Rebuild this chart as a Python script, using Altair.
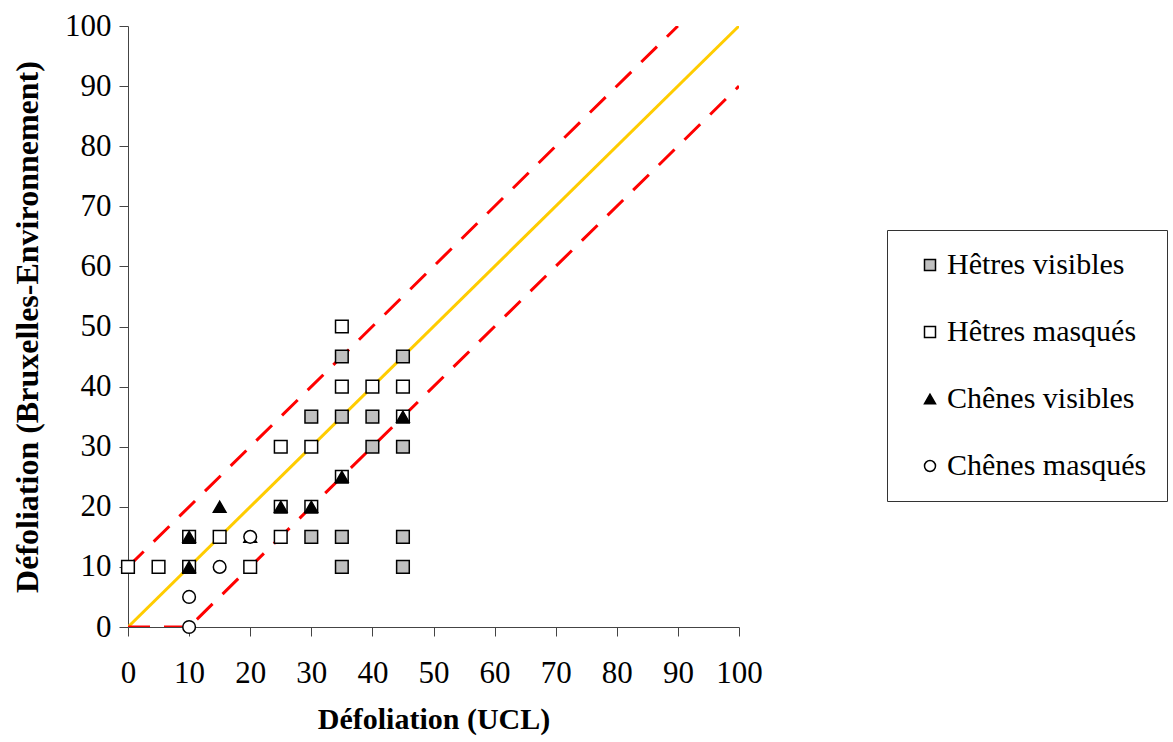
import altair as alt
import pandas as pd

# ---- data ----
series_names = ["Hêtres visibles", "Hêtres masqués", "Chênes visibles", "Chênes masqués"]

hv_x = [30, 35, 40, 35, 45, 40, 45, 30, 35, 45, 35, 45]
hv_y = [35, 35, 35, 45, 45, 30, 30, 15, 15, 15, 10, 10]

hm_x = [0, 5, 20, 15, 25, 25, 30, 35, 40, 45, 35, 10, 10, 25, 30, 35, 45]
hm_y = [10, 10, 10, 15, 15, 30, 30, 40, 40, 40, 50, 10, 15, 20, 20, 25, 35]

cv_x = [10, 10, 15, 20, 25, 30, 35, 45]
cv_y = [10, 15, 20, 15, 20, 20, 25, 35]

cm_x = [10, 10, 15, 20]
cm_y = [0, 5, 10, 15]

# reference lines
diag_x = [0, 100]
diag_y = [0, 100]
upper_x = [0, 90]
upper_y = [10, 100]
lower_x = [0, 10, 100]
lower_y = [0, 0, 90]

x_ticks = list(range(0, 101, 10))
y_ticks = list(range(0, 101, 10))

rows = []
for name, xs, ys in zip(series_names, [hv_x, hm_x, cv_x, cm_x], [hv_y, hm_y, cv_y, cm_y]):
    for a, b in zip(xs, ys):
        rows.append({"x": a, "y": b, "serie": name})
pts = pd.DataFrame(rows)

FONT = "'Liberation Serif', 'Times New Roman', Times, serif"

xs = alt.Scale(domain=[0, 100], nice=False, zero=False)
ys = alt.Scale(domain=[0, 100], nice=False, zero=False)

x_axis = alt.Axis(values=x_ticks, grid=False, title="Défoliation (UCL)", labelFont=FONT,
                  labelFontSize=31, titleFont=FONT, titleFontSize=30, titleFontWeight="bold",
                  labelColor="black", titleColor="black", domainColor="#444444", tickColor="#444444",
                  tickSize=9, labelPadding=22, titlePadding=16, labelFlush=False)
y_axis = alt.Axis(values=y_ticks, grid=False, title="Défoliation (Bruxelles-Environnement)", labelFont=FONT,
                  labelFontSize=31, titleFont=FONT, titleFontSize=32, titleFontWeight="bold",
                  labelColor="black", titleColor="black", domainColor="#444444", tickColor="#444444",
                  tickSize=9, labelPadding=8, titlePadding=20, labelFlush=False)


def line_layer(xv, yv, color, dash=None):
    df = pd.DataFrame({"x": xv, "y": yv})
    kw = dict(color=color, strokeWidth=3, clip=True)
    if dash:
        kw["strokeDash"] = dash
    return alt.Chart(df).mark_line(**kw).encode(
        x=alt.X("x:Q", scale=xs, axis=x_axis),
        y=alt.Y("y:Q", scale=ys, axis=y_axis),
    )


diag = line_layer(diag_x, diag_y, "#FFCC00")
upper = line_layer(upper_x, upper_y, "#FF0000", [22, 14])
lower = line_layer(lower_x, lower_y, "#FF0000", [22, 14])

legend = alt.Legend(title=None, orient="none", legendX=759, legendY=204,
                    labelFont=FONT, labelFontSize=30, labelColor="black",
                    strokeColor="#333333", fillColor="white", padding=20,
                    rowPadding=37, symbolSize=121,
                    symbolStrokeWidth=1.5, symbolOffset=8, labelOffset=2, labelLimit=400)

points = alt.Chart(pts).mark_point(size=160, strokeWidth=1.5, opacity=1, filled=True).encode(
    x=alt.X("x:Q", scale=xs, axis=x_axis),
    y=alt.Y("y:Q", scale=ys, axis=y_axis),
    shape=alt.Shape("serie:N", scale=alt.Scale(domain=series_names,
                                               range=["square", "square", "triangle-up", "circle"]),
                    legend=legend),
    fill=alt.Fill("serie:N", scale=alt.Scale(domain=series_names,
                                             range=["#C0C0C0", "white", "black", "white"]),
                  legend=legend),
    stroke=alt.Stroke("serie:N", scale=alt.Scale(domain=series_names,
                                                 range=["black", "black", "black", "black"]),
                      legend=legend),
)

chart = alt.layer(diag, upper, lower, points).properties(
    width=611, height=601,
    autosize=alt.AutoSizeParams(type="none"),
    padding={"left": 128, "top": 26, "right": 434, "bottom": 115},
    background="white",
).configure_view(stroke=None)

chart.save("out.html", embed_options={"renderer": "svg", "actions": False})
